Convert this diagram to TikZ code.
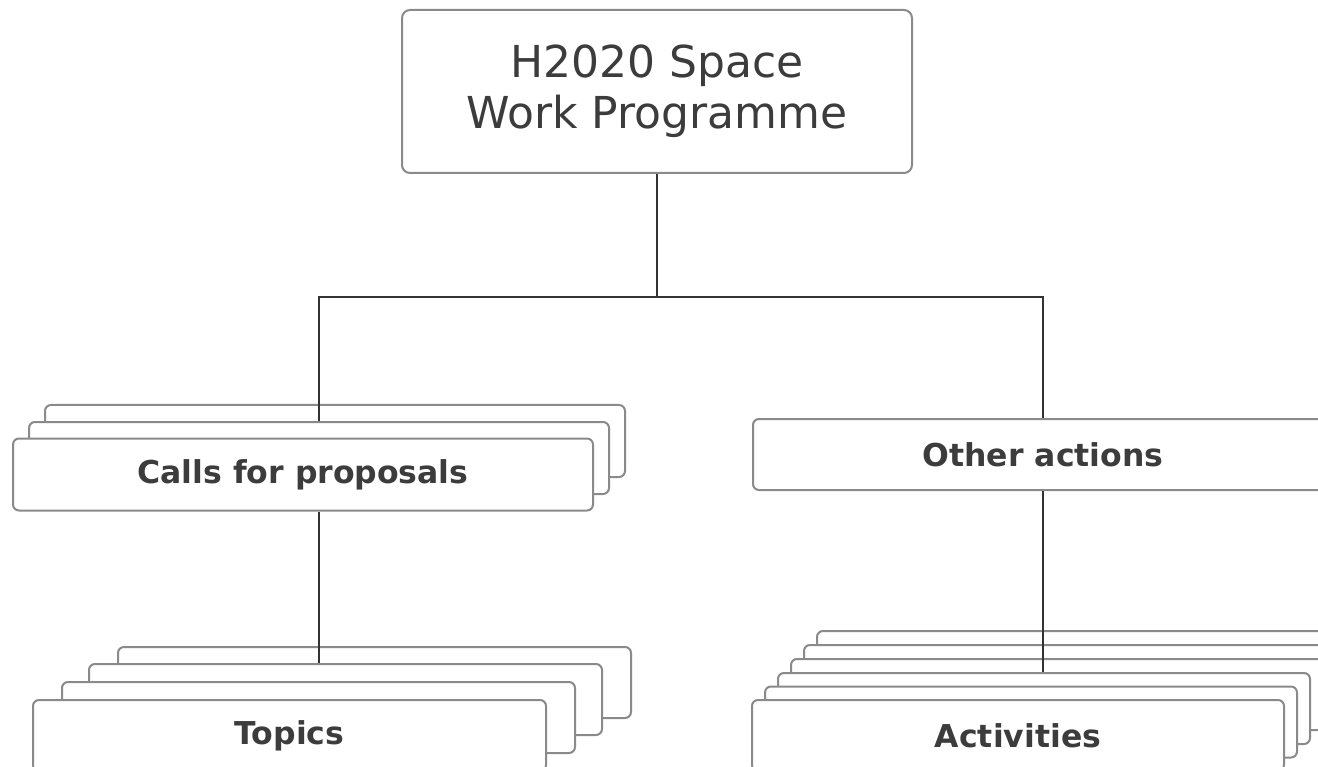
\documentclass[tikz,border=0pt]{standalone}
\usepackage{fontspec}
\setmainfont{DejaVu Sans}
\usepackage{xcolor}
\definecolor{wp-frame}{HTML}{8A8A8A}
\definecolor{wp-text}{HTML}{3C3C3C}
\definecolor{wp-link}{HTML}{333333}
\usepackage{tikz}

\tikzset{
    card/.style={draw=wp-frame, fill=white, line width=2pt, rounded corners=6pt,
        text=wp-text, font=\bfseries\fontsize{31.5}{36}\selectfont, inner sep=0pt},
    link/.style={draw=wp-link, line width=2pt}
}

\begin{document}
\begin{tikzpicture}[x=1pt, y=-1pt]

    % Frame
    \useasboundingbox (0, 0) rectangle (1318, 767);
    \clip (0, 0) rectangle (1318, 767);

    % Programme
    \node[card, font=\fontsize{44}{51}\selectfont, align=center,
        minimum width=510pt, minimum height=163pt, rounded corners=8pt] (top) at (657, 91.5)
        {H2020 Space\\Work Programme};

    % Calls stack
    \node[card, minimum width=580pt, minimum height=72pt] (calls3) at (335, 441) {};
    \node[card, minimum width=580pt, minimum height=72pt] (calls2) at (319, 458) {};
    \node[card, minimum width=580pt, minimum height=72pt] (calls) at (303, 474.5) {Calls for proposals};

    % Other actions
    \node[card, minimum width=580pt, minimum height=71pt] (other) at (1043, 454.5) {Other actions};

    % Topics stack
    \node[card, minimum width=513pt, minimum height=71pt] (topics4) at (374.5, 682.5) {};
    \node[card, minimum width=513pt, minimum height=71pt] (topics3) at (345.5, 699.5) {};
    \node[card, minimum width=513pt, minimum height=71pt] (topics2) at (318.5, 717.5) {};
    \node[card, minimum width=513pt, minimum height=71pt] (topics) at (289.5, 735.5) {Topics};

    % Activities stack
    \node[card, minimum width=532pt, minimum height=71pt] (act6) at (1083, 666.5) {};
    \node[card, minimum width=532pt, minimum height=71pt] (act5) at (1070, 680.5) {};
    \node[card, minimum width=532pt, minimum height=71pt] (act4) at (1057, 694.5) {};
    \node[card, minimum width=532pt, minimum height=71pt] (act3) at (1044, 708.5) {};
    \node[card, minimum width=532pt, minimum height=71pt] (act2) at (1031, 722) {};
    \node[card, minimum width=532pt, minimum height=71pt] (act) at (1018, 735.5) {Activities};

    % Links
    \draw[link] (top.south) -- ++(0, 123) coordinate (fork);
    \draw[link] (fork) -| (calls2.north);
    \draw[link] (fork) -| (other.north);
    \draw[link] (calls2.north |- calls.south) -- (calls2.north |- topics3.north);
    \draw[link] (other.south) -- (other.south |- act3.north);

\end{tikzpicture}
\end{document}
